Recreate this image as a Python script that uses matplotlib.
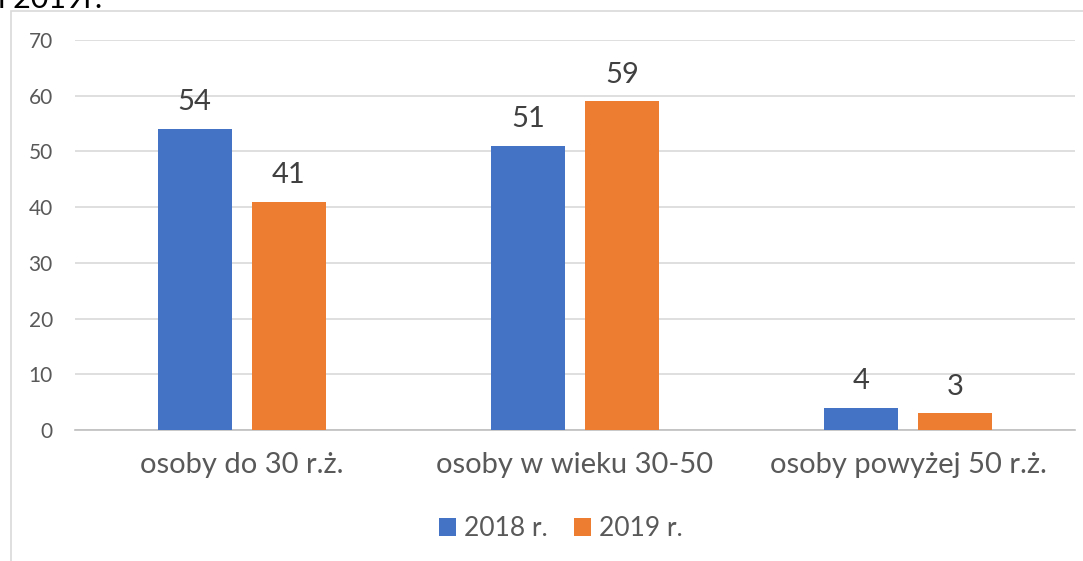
import matplotlib

matplotlib.use("Agg")

import matplotlib.pyplot as plt
from matplotlib.patches import Rectangle
import numpy as np

plt.rcParams["font.family"] = ["Lato", "DejaVu Sans"]

categories = ["osoby do 30 r.ż.", "osoby w wieku 30-50", "osoby powyżej 50 r.ż."]
series_names = ["2018 r.", "2019 r."]
values_2018 = [54, 51, 4]
values_2019 = [41, 59, 3]
y_ticks = [0, 10, 20, 30, 40, 50, 60, 70]

BLUE = "#4472C4"
ORANGE = "#ED7D31"
GRID = "#D9D9D9"
TEXT = "#595959"

W, H = 1083, 561
fig = plt.figure(figsize=(W / 100, H / 100), dpi=100)
ax = fig.add_axes([75 / W, 1 - 430 / H, 1000 / W, 390 / H])

x = np.arange(len(categories))
width = 0.222
offset = 0.141
bars_a = ax.bar(x - offset, values_2018, width, color=BLUE, label=series_names[0], zorder=3)
bars_b = ax.bar(x + offset, values_2019, width, color=ORANGE, label=series_names[1], zorder=3)

for bars in (bars_a, bars_b):
    for bar in bars:
        ax.annotate(f"{bar.get_height():g}", (bar.get_x() + bar.get_width() / 2, bar.get_height()),
                    xytext=(0, 13.5), textcoords="offset points", ha="center", va="baseline",
                    fontsize=21, color="#404040")

ax.set_xlim(-0.5, 2.5)
ax.set_ylim(0, 70)
ax.set_yticks(y_ticks)
ax.set_xticks(x)
ax.set_xticklabels(categories)
ax.yaxis.grid(True, color=GRID, linewidth=1.2, zorder=0)
ax.tick_params(axis="y", length=0, pad=16, labelsize=15, labelcolor=TEXT)
ax.tick_params(axis="x", length=0, pad=16, labelsize=21, labelcolor=TEXT)
for side in ("top", "right", "left"):
    ax.spines[side].set_visible(False)
ax.spines["bottom"].set_color("#BFBFBF")
ax.spines["bottom"].set_linewidth(1.2)

fig.legend(handles=[bars_a, bars_b], loc="center", bbox_to_anchor=(561 / W, 1 - 529 / H),
           ncol=2, frameon=False, fontsize=19, labelcolor=TEXT, handlelength=0.65,
           handleheight=0.65, handletextpad=0.3, columnspacing=1.0, borderpad=0)

# ramka obszaru wykresu i obcięty tekst nad nim
fig.patches.append(Rectangle((11 / W, -0.1), 1.2, 1 - 11 / H + 0.1, transform=fig.transFigure,
                             fill=False, edgecolor="#D9D9D9", linewidth=1.2))
fig.text(-2 / W, 1 - 8 / H, "i 2019r.", fontsize=22, color="black", va="baseline", ha="left")

fig.savefig("out.png", dpi=100)
